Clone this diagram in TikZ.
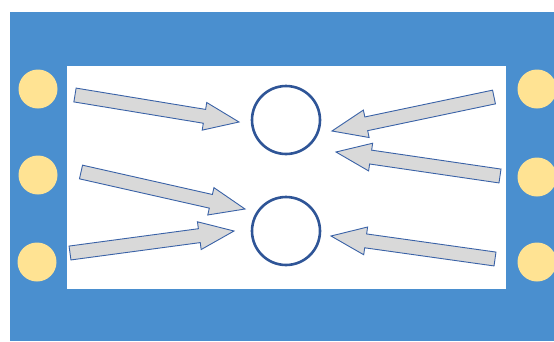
\documentclass[tikz,border=0pt]{standalone}
\usepackage{tikz}
\usetikzlibrary{calc}

\definecolor{frameblue}{HTML}{4A8FCF}
\definecolor{padyellow}{HTML}{FFE393}
\definecolor{ringblue}{HTML}{2F5597}
\definecolor{arrowgray}{HTML}{D9D9D9}
\definecolor{arrowline}{HTML}{3A62A7}

\tikzset{
  pad/.style={circle, fill=padyellow, minimum size=39pt, inner sep=0pt},
  ring/.style={circle, draw=ringblue, line width=2.6pt, minimum size=68pt, inner sep=0pt},
  blockarrow/.style={fill=arrowgray, draw=arrowline, line width=0.9pt, line join=miter}
}

\begin{document}
\begin{tikzpicture}[x=1pt, y=-1pt]
            \useasboundingbox (0,0) rectangle (554,341);
            \clip (0,0) rectangle (554,341);
            % Frame
            \fill[frameblue] (10,12) rectangle (560,341);
            \fill[white] (67,66) rectangle (506,289);

            % Pads on both sides
            \node[pad] (l1) at (38,89) {};
            \node[pad] (l2) at (38,175) {};
            \node[pad] (l3) at (37,262) {};
            \node[pad] (r1) at (537,89) {};
            \node[pad] (r2) at (537,177) {};
            \node[pad] (r3) at (537,262) {};

            % Rings
            \node[ring] (top) at (286,120) {};
            \node[ring] (bot) at (286,231) {};

            % Arrow tails and tips
            \coordinate (t1) at (75,95);   \coordinate (h1) at (239,122);
            \coordinate (t2) at (81,172);  \coordinate (h2) at (245,209);
            \coordinate (t3) at (70,253);  \coordinate (h3) at (234,231);
            \coordinate (t4) at (494,97);  \coordinate (h4) at (332,131);
            \coordinate (t5) at (500,176); \coordinate (h5) at (336,152);
            \coordinate (t6) at (495,259); \coordinate (h6) at (331,236);

            % Block arrows
            \foreach \t/\h in {t1/h1, t2/h2, t3/h3, t4/h4, t5/h5, t6/h6}{
              \coordinate (b) at ($(\h)!35pt!(\t)$);
              \draw[blockarrow] ($(\t)!7pt!90:(\h)$) -- ($(b)!7pt!90:(\h)$)
                -- ($(b)!14pt!90:(\h)$) -- (\h) -- ($(b)!14pt!-90:(\h)$)
                -- ($(b)!7pt!-90:(\h)$) -- ($(\t)!7pt!-90:(\h)$) -- cycle;
            }
\end{tikzpicture}
\end{document}
